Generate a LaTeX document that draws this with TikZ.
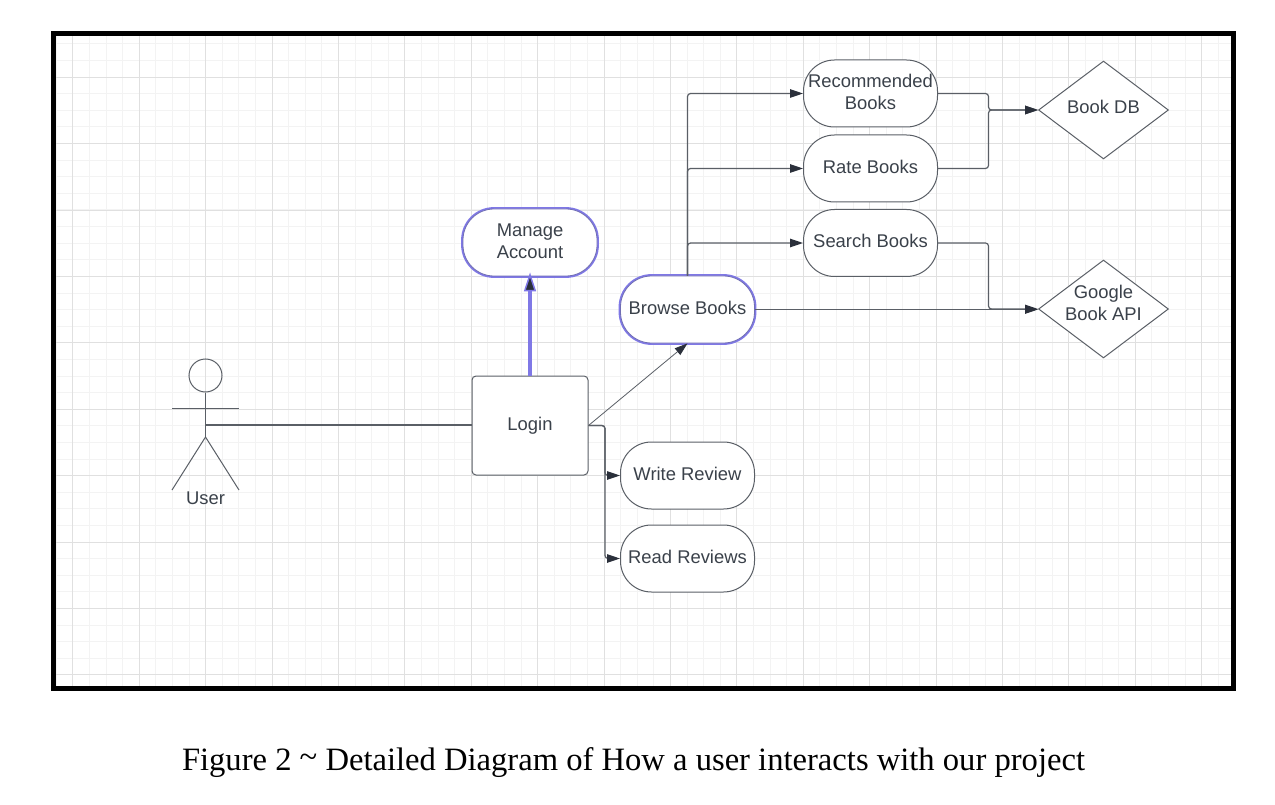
\documentclass[tikz,border=0pt]{standalone}
\usepackage{fontspec}
\setmainfont{Liberation Sans}
\newfontfamily\capfont{Liberation Serif}
\usetikzlibrary{arrows.meta,shapes.geometric}
\definecolor{ink}{HTML}{3A414A}
\definecolor{edge}{HTML}{5A5F66}
\definecolor{tipdark}{HTML}{2B303B}
\definecolor{halo}{HTML}{7F78E6}
\definecolor{gridminor}{HTML}{F3F3F3}
\definecolor{gridmajor}{HTML}{E0E0E0}
\newcommand\nodetxt[2][-4.5pt]{\raisebox{#1}[0pt][0pt]{\begin{tabular}[c]{@{}c@{}}#2\end{tabular}}}
\tikzset{
  x=1pt,y=-1pt,
  base/.style={draw=edge,line width=1pt,fill=white,text=ink,inner sep=0pt,font=\fontsize{18.4}{22}\selectfont},
  pill/.style={base,rectangle,rounded corners=31pt,minimum width=134pt,minimum height=67pt},
  glow/.style={pill,draw=halo!60!edge,line width=0.8pt,preaction={draw=halo,line width=3.8pt}},
  box/.style={base,rectangle,rounded corners=4pt,minimum width=116pt,minimum height=99pt},
  gem/.style={base,diamond,aspect=1.316,minimum width=130pt,minimum height=98pt},
  link/.style={draw=edge,line width=1.2pt,rounded corners=3pt},
  arrow/.style={link,-{Triangle[length=13pt,width=8.5pt,color=tipdark]}},
  stick/.style={draw=edge,line width=1pt},
}
\begin{document}
\begin{tikzpicture}
\useasboundingbox (0,0) rectangle (1275,805);
\fill[white] (0,0) rectangle (1275,805);
\begin{scope}
  \clip (53,33) rectangle (1234,689);
  \foreach \k in {0,...,71}{
    \pgfmathsetmacro\gx{56.3+16.6*\k}
    \draw[gridminor,line width=1pt] (\gx,33) -- (\gx,689);
  }
  \foreach \k in {0,...,40}{
    \pgfmathsetmacro\gy{27.4+16.6*\k}
    \draw[gridminor,line width=1pt] (53,\gy) -- (1234,\gy);
  }
  \foreach \k in {0,...,17}{
    \pgfmathsetmacro\gx{72.9+66.4*\k}
    \draw[gridmajor,line width=1pt] (\gx,33) -- (\gx,689);
  }
  \foreach \k in {0,...,9}{
    \pgfmathsetmacro\gy{77.3+66.4*\k}
    \draw[gridmajor,line width=1pt] (53,\gy) -- (1234,\gy);
  }
\end{scope}
\draw[black,line width=5pt] (53.5,33.5) rectangle (1233.5,688.5);

% actor
\node[draw=edge,line width=1pt,circle,minimum size=33pt,inner sep=0pt] (head) at (205.5,375.5) {};
\coordinate (hip) at (205.5,437);
\coordinate (armL) at (172,408.5);
\coordinate (armR) at (239,408.5);
\coordinate (footL) at (172,490);
\coordinate (footR) at (239,490);
\coordinate (waist) at (205.5,425);
\draw[stick] (head.south) -- (hip);
\draw[stick] (armL) -- (armR);
\draw[stick] (footL) -- (hip) -- (footR);
\node[text=ink,inner sep=0pt,font=\fontsize{18.4}{22}\selectfont] (userlabel) at (205.5,499.5) {\nodetxt{User}};

% nodes
\node[box] (login) at (530,425.5) {\nodetxt[-5pt]{Login}};
\node[glow] (manage) at (530,242.5) {\nodetxt{Manage\\Account}};
\node[glow] (browse) at (687.5,309.5) {\nodetxt{Browse Books}};
\node[pill] (rec) at (870.5,93.5) {\nodetxt{Recommended\\Books}};
\node[pill] (rate) at (870.5,168.5) {\nodetxt{Rate Books}};
\node[pill] (search) at (870.5,243) {\nodetxt{Search Books}};
\node[pill] (write) at (687.5,475.5) {\nodetxt{Write Review}};
\node[pill] (read) at (687.5,558.5) {\nodetxt{Read Reviews}};
\node[gem] (db) at (1103.5,110) {\nodetxt[-3.5pt]{Book DB}};
\node[gem] (api) at (1103.5,309) {\nodetxt[0pt]{Google\\Book API}};

\coordinate (busdb) at (988.5,110);
\coordinate (busapi) at (988.5,309);
\coordinate (buslogin) at (605,475.5);

% connectors
\draw[link] (waist) -- (waist -| login.west);
\draw[arrow] (browse.north) |- (rec.west);
\draw[arrow] (browse.north) |- (rate.west);
\draw[arrow] (browse.north) |- (search.west);
\draw[arrow] (browse.east) -- (api.west |- browse.east);
\draw[arrow] (rec.east) -| (busdb) -- (db.west);
\draw[arrow] (rate.east) -| (busdb) -- (db.west);
\draw[arrow] (search.east) -| (busapi) -- (api.west);
\draw[arrow] (login.east) -| (buslogin) -- (write.west);
\draw[arrow] (login.east) -| (buslogin) |- (read.west);
\draw[edge,line width=0.8pt,-{Triangle[length=13pt,width=8.5pt,color=tipdark]}] (login.east) -- (browse.south);
\draw[halo,line width=4pt,shorten >=-4pt,-{Triangle[length=19pt,width=12pt,fill=tipdark,line width=1.5pt]}] (login.north) -- (manage.south);

% caption
\node[text=black,inner sep=0pt,font=\capfont\fontsize{32.6}{36}\selectfont] (caption) at (633.5,763) {Figure 2 \raisebox{0.12em}{\char`~} Detailed Diagram of How a user interacts with our project};
\end{tikzpicture}
\end{document}
